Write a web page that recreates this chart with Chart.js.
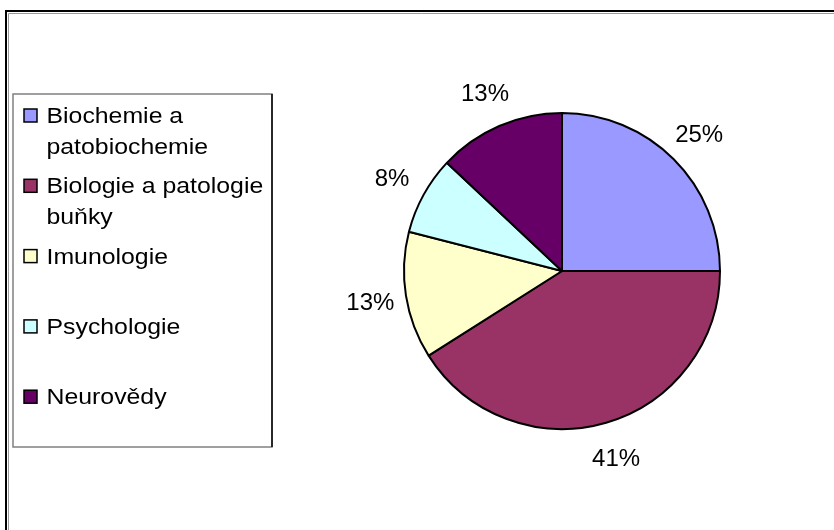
<!DOCTYPE html>
<html>
<head>
<meta charset="utf-8">
<script src="https://cdn.jsdelivr.net/npm/chart.js@4/dist/chart.umd.min.js"></script>
<style>
  body { margin: 0; background: #fff; }
  canvas { display: block; }
</style>
</head>
<body>
<canvas id="pie-chart" width="834" height="530"></canvas>
<script>
// categories (wrapped as in the legend) and their shares
var categories = [
  ["Biochemie a", "patobiochemie"],
  ["Biologie a patologie", "buňky"],
  "Imunologie",
  "Psychologie",
  "Neurovědy"
];
var shares = [25, 41, 13, 8, 13];
var colors = ["#9999FF", "#993366", "#FFFFCC", "#CCFFFF", "#660066"];

// frame around the chart (cut off at right and bottom)
var framePlugin = {
  id: 'frame',
  beforeDraw: function(chart) {
    var ctx = chart.ctx;
    ctx.save();
    ctx.fillStyle = '#fff';
    ctx.fillRect(0, 0, chart.width, chart.height);
    ctx.strokeStyle = '#999';
    ctx.lineWidth = 1;
    ctx.beginPath();
    ctx.moveTo(8.5, chart.height);
    ctx.lineTo(8.5, 13.5);
    ctx.lineTo(chart.width, 13.5);
    ctx.stroke();
    ctx.strokeStyle = '#000';
    ctx.lineWidth = 2;
    ctx.beginPath();
    ctx.moveTo(6, chart.height);
    ctx.lineTo(6, 11);
    ctx.lineTo(chart.width, 11);
    ctx.stroke();
    ctx.restore();
  }
};

// percentage labels outside the slices
var outsideLabels = {
  id: 'outsideLabels',
  afterDatasetsDraw: function(chart) {
    var ctx = chart.ctx;
    var meta = chart.getDatasetMeta(0);
    var data = chart.data.datasets[0].data;
    var total = data.reduce(function(a, b) { return a + b; }, 0);
    ctx.save();
    ctx.font = '24px "Liberation Sans", Arial, sans-serif';
    ctx.fillStyle = '#000';
    ctx.textAlign = 'center';
    ctx.textBaseline = 'alphabetic';
    meta.data.forEach(function(arc, i) {
      var p = arc.getProps(['x', 'y', 'startAngle', 'endAngle', 'outerRadius'], true);
      var mid = (p.startAngle + p.endAngle) / 2;
      var d = p.outerRadius + 36;
      var x = p.x + Math.cos(mid) * d;
      var y = p.y + Math.sin(mid) * d;
      var text = Math.round(data[i] / total * 100) + '%';
      // baseline set so the digits are centred on (x, y)
      ctx.fillText(text, x, y + 8.5);
    });
    ctx.restore();
  }
};

// boxed legend on the left
var boxLegend = {
  id: 'boxLegend',
  afterDraw: function(chart) {
    var ctx = chart.ctx;
    var labels = chart.data.labels;
    var bg = chart.data.datasets[0].backgroundColor;
    ctx.save();
    ctx.strokeStyle = '#808080';
    ctx.lineWidth = 1.5;
    ctx.strokeRect(13, 94, 259, 353);
    ctx.strokeStyle = '#000';
    ctx.beginPath();
    ctx.moveTo(272, 94);
    ctx.lineTo(272, 447);
    ctx.stroke();

    ctx.font = '21.5px "Liberation Sans", Arial, sans-serif';
    ctx.textBaseline = 'alphabetic';
    ctx.fillStyle = '#000';
    labels.forEach(function(lab, i) {
      var lines = Array.isArray(lab) ? lab : [lab];
      var base = 123 + 70.3 * i;
      ctx.fillStyle = bg[i];
      ctx.fillRect(24, base - 14, 13, 13);
      ctx.strokeStyle = '#000';
      ctx.lineWidth = 1.5;
      ctx.strokeRect(24, base - 14, 13, 13);
      ctx.fillStyle = '#000';
      lines.forEach(function(line, j) {
        ctx.save();
        ctx.translate(46.5, base + 31 * j);
        ctx.scale(1.155, 1);
        ctx.fillText(line, 0, 0);
        ctx.restore();
      });
    });
    ctx.restore();
  }
};

new Chart(document.getElementById("pie-chart"), {
  type: 'pie',
  data: {
    labels: categories,
    datasets: [{
      data: shares,
      backgroundColor: colors,
      borderColor: '#000',
      borderWidth: 2,
      hoverOffset: 0
    }]
  },
  options: {
    responsive: false,
    animation: false,
    radius: 158,
    layout: { padding: { left: 404, right: 114, top: 113, bottom: 101 } },
    plugins: {
      legend: { display: false },
      tooltip: { enabled: false },
      title: { display: false }
    }
  },
  plugins: [framePlugin, outsideLabels, boxLegend]
});
</script>
</body>
</html>
